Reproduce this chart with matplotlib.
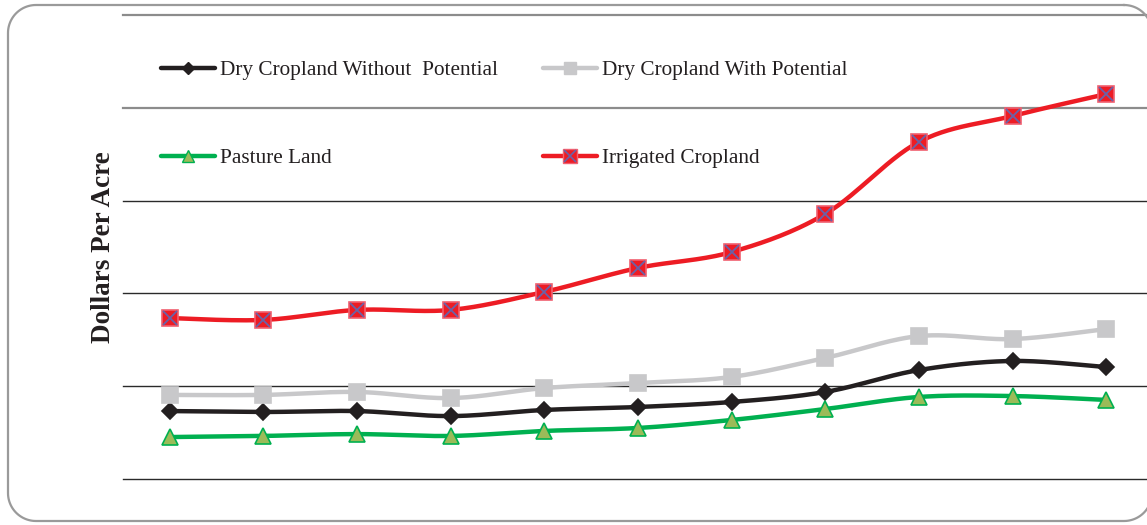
import numpy as np
import matplotlib
matplotlib.use("Agg")
import matplotlib.pyplot as plt
from matplotlib.lines import Line2D

# Land values per acre, 11 consecutive survey periods
periods = list(range(11))
dry_without = [366, 361, 366, 339, 372, 388, 415, 469, 587, 636, 603]
dry_with = [453, 453, 469, 436, 490, 517, 550, 652, 770, 754, 808]
pasture = [226, 232, 242, 232, 259, 275, 318, 377, 442, 447, 426]
irrigated = [867, 857, 911, 911, 1008, 1137, 1223, 1428, 1816, 1956, 2074]

series_labels = ["Dry Cropland Without  Potential", "Dry Cropland With Potential",
                 "Pasture Land", "Irrigated Cropland"]
y_ticks = [0, 500, 1000, 1500, 2000, 2500]

SERIF = ["Liberation Serif", "DejaVu Serif"]


def smooth(xs, ys, n=30):
    """Excel-style smoothed line: cubic Bezier segments with Catmull-Rom tangents."""
    xs = np.asarray(xs, float)
    ys = np.asarray(ys, float)
    px = np.concatenate([[xs[0]], xs, [xs[-1]]])
    py = np.concatenate([[ys[0]], ys, [ys[-1]]])
    out_x, out_y = [], []
    t = np.linspace(0, 1, n)
    for i in range(1, len(px) - 2):
        p0 = np.array([px[i], py[i]])
        p3 = np.array([px[i + 1], py[i + 1]])
        c1 = p0 + (np.array([px[i + 1], py[i + 1]]) - np.array([px[i - 1], py[i - 1]])) / 6
        c2 = p3 - (np.array([px[i + 2], py[i + 2]]) - np.array([px[i], py[i]])) / 6
        b = ((1 - t) ** 3)[:, None] * p0 + (3 * (1 - t) ** 2 * t)[:, None] * c1 \
            + (3 * (1 - t) * t ** 2)[:, None] * c2 + (t ** 3)[:, None] * p3
        out_x.extend(b[:, 0])
        out_y.extend(b[:, 1])
    return out_x, out_y


def rounded_rect(x0, y0, x1, y1, r, n=24):
    """Outline of a rounded rectangle as a closed polyline (pixel units, y down)."""
    pts = []
    corners = [(x1 - r, y0 + r, -90, 0), (x1 - r, y1 - r, 0, 90),
               (x0 + r, y1 - r, 90, 180), (x0 + r, y0 + r, 180, 270)]
    for cx, cy, a0, a1 in corners:
        a = np.radians(np.linspace(a0, a1, n))
        pts.extend(zip(cx + r * np.cos(a), cy + r * np.sin(a)))
    pts.append(pts[0])
    return np.array(pts)


W, H = 1147, 525
fig = plt.figure(figsize=(W / 100, H / 100), dpi=100)

# rounded frame around the chart (right side runs just past the canvas)
outline = rounded_rect(8, 5, 1152, 521, 28)
fig.add_artist(Line2D(outline[:, 0] / W, (H - outline[:, 1]) / H, color="#9a9a9a",
                      lw=1.6, transform=fig.transFigure))

# plot area: left 123 px, right beyond the canvas, bottom 479 px, top 15 px
ax = fig.add_axes([123 / W, (H - 479) / H, (1153 - 123) / W, (479 - 15) / H])
ax.set_xlim(-0.5, 10.5)
ax.set_ylim(y_ticks[0], y_ticks[-1])
ax.set_xticks([])
ax.set_yticks([])
for s in ax.spines.values():
    s.set_visible(False)
for v in y_ticks:
    if v >= 2000:
        ax.axhline(v, color="#8c8c8c", lw=1.6, zorder=0, clip_on=False)
    else:
        ax.axhline(v, color="#2a2a2a", lw=1.0, zorder=0, clip_on=False)

styles = [
    dict(data=dry_without, color="#231f20", marker="D", ms=8, mfc="#231f20", mec="#231f20"),
    dict(data=dry_with, color="#c8c8ca", marker="s", ms=11, mfc="#c8c8ca", mec="#c8c8ca"),
    dict(data=pasture, color="#00b050", marker="^", ms=11, mfc="#9bbb59", mec="#00b050"),
    dict(data=irrigated, color="#ed1c24", marker="s", ms=12, mfc="#ed1c24", mec="#f06070"),
]

for st in styles:
    sx, sy = smooth(periods, st["data"])
    ax.plot(sx, sy, color=st["color"], lw=3.2, solid_capstyle="round", zorder=3)
    ax.plot(periods, st["data"], ls="none", marker=st["marker"], ms=st["ms"],
            mfc=st["mfc"], mec=st["mec"], mew=1.2, zorder=4)
    if st is styles[3]:
        ax.plot(periods, st["data"], ls="none", marker="x", ms=10,
                mec="#6a62a8", mew=1.3, zorder=5)

# legend drawn in figure pixel space
legend_pos = [(161, 68), (543, 68), (161, 156), (543, 156)]
legend_ms = [6, 9, 9, 10]
for (lx, ly), st, label, ms in zip(legend_pos, styles, series_labels, legend_ms):
    yf = (H - ly) / H
    fig.add_artist(Line2D([lx / W, (lx + 54) / W], [yf, yf], color=st["color"], lw=3.2,
                          solid_capstyle="round", transform=fig.transFigure))
    fig.add_artist(Line2D([(lx + 27) / W], [yf], ls="none", marker=st["marker"], ms=ms,
                          mfc=st["mfc"], mec=st["mec"], mew=1.0, transform=fig.transFigure))
    if st is styles[3]:
        fig.add_artist(Line2D([(lx + 27) / W], [yf], ls="none", marker="x", ms=8,
                              mec="#6a62a8", mew=1.2, transform=fig.transFigure))
    fig.text((lx + 59) / W, yf, label, family=SERIF, fontsize=15.3, color="#231f20",
             va="center_baseline", ha="left")

fig.text(104 / W, (H - 247) / H, "Dollars Per Acre", family=SERIF, fontsize=19.5,
         fontweight="bold", rotation=90, va="center", ha="center", color="#231f20")

fig.savefig("out.png", dpi=100)
